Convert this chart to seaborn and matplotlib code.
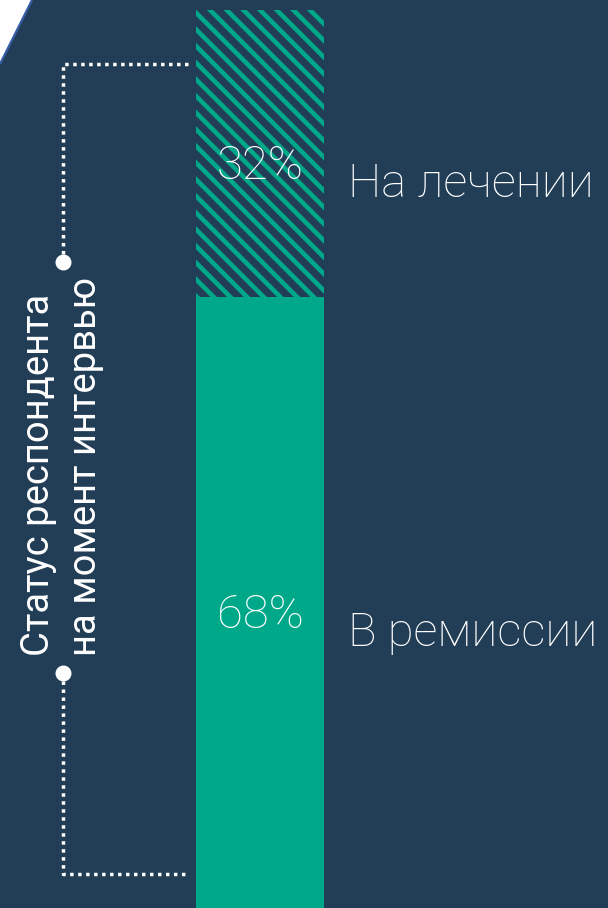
import numpy as np
import pandas as pd
import matplotlib
matplotlib.use("Agg")
import matplotlib.pyplot as plt
from matplotlib.patches import Polygon
import seaborn as sns

# Данные
status = ["В ремиссии", "На лечении"]
share = [68, 32]
share_labels = ["68%", "32%"]
axis_title = "Статус респондента\nна момент интервью"

navy = "#223d56"
teal = "#00a88a"

sns.set_theme(style="white")
plt.rcParams["font.family"] = ["Roboto", "DejaVu Sans"]
plt.rcParams["hatch.linewidth"] = 3.3

df = pd.DataFrame({"status": status, "share": share, "label": share_labels})
df["top"] = df["share"].cumsum()
df["mid"] = df["top"] - df["share"] / 2

fig = plt.figure(figsize=(6.08, 9.08), dpi=100, facecolor=navy)

# фон и декор в пиксельных координатах
bg = fig.add_axes([0, 0, 1, 1])
bg.set_xlim(0, 608)
bg.set_ylim(908, 0)
bg.set_facecolor(navy)
bg.axis("off")

bg.add_patch(Polygon([(0, 0), (32, 0), (0, 64)], closed=True, facecolor="white", edgecolor="none"))
bg.plot([32, 0], [0, 64], color="#3560a8", lw=1.6, solid_capstyle="butt")

dot_style = dict(color="white", lw=2.5, linestyle=(0, (1, 1.3)), dash_capstyle="butt")
bg.plot([188, 63, 63], [64, 64, 262], **dot_style)
bg.plot([63, 63, 188], [673, 874, 874], **dot_style)
bg.plot([63, 63], [262, 673], "o", color="white", ms=11.5, mec="none")

bg.text(62, 466, axis_title, rotation=90, ha="center", va="center",
        multialignment="left", color="white", fontsize=27.5,
        linespacing=1.33)

# столбец
ax = fig.add_axes([196 / 608, 0, 128 / 608, 898 / 908])
for i in reversed(range(len(df))):
    sns.barplot(x=[0], y=[df["top"][i]], color=teal, saturation=1,
                width=1, ax=ax, linewidth=0)
top_bar = ax.patches[0]
top_bar.set_facecolor(navy)
top_bar.set_edgecolor(teal)
top_bar.set_linewidth(0)
top_bar.set_hatch("\\\\")
ax.set_xlim(-0.5, 0.5)
ax.set_ylim(0, 100)
ax.set_facecolor("none")
ax.axis("off")

# подписи: проценты в столбце, статусы справа
for _, row in df.iterrows():
    ax.annotate(row["label"], (0, row["mid"]), xytext=(0, -18),
                textcoords="offset points", ha="center", va="baseline",
                color="white", fontsize=34, fontweight="light")
    ax.annotate(row["status"], (0.5, row["mid"]), xytext=(17, -31),
                textcoords="offset points", ha="left", va="baseline",
                color="white", fontsize=34, fontweight="light",
                annotation_clip=False)

fig.savefig("out.png", dpi=100, facecolor=navy)
